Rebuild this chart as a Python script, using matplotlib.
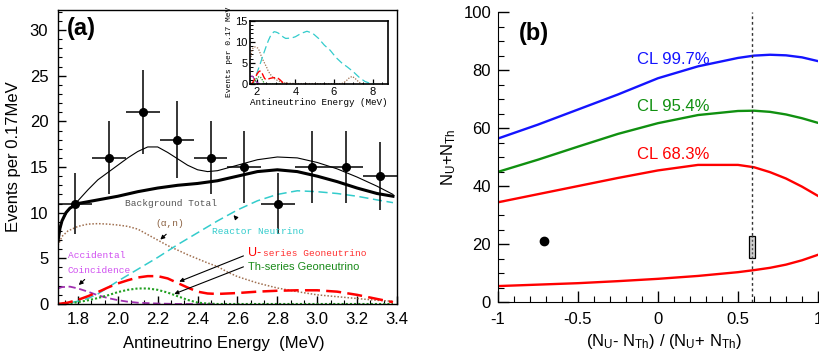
import matplotlib
matplotlib.use("Agg")
import matplotlib.pyplot as plt
from matplotlib.ticker import MultipleLocator
from matplotlib.patches import Rectangle

plt.rcParams["font.family"] = ["Liberation Sans", "DejaVu Sans"]
plt.rcParams["mathtext.fontset"] = "custom"
plt.rcParams["mathtext.rm"] = "Liberation Sans"
plt.rcParams["mathtext.it"] = "Liberation Sans"
plt.rcParams["mathtext.default"] = "regular"

MONO = ["Liberation Mono", "DejaVu Sans Mono"]

# ---------------- panel (a) data ----------------
bin_e = [1.785, 1.955, 2.125, 2.295, 2.465, 2.635, 2.805, 2.975, 3.145, 3.315]
counts = [11, 16, 21, 18, 16, 15, 11, 15, 15, 14]
count_err = [3.3, 4.0, 4.6, 4.2, 4.0, 3.9, 3.3, 3.9, 3.9, 3.7]
bin_half = 0.085

bg_e = [1.70, 1.71, 1.72, 1.74, 1.76, 1.80, 1.85, 1.90, 2.00, 2.10, 2.20, 2.30,
        2.40, 2.50, 2.60, 2.70, 2.80, 2.90, 3.00, 3.10, 3.20, 3.30, 3.38]
bg_total = [6.9, 8.3, 9.1, 10.0, 10.5, 11.0, 11.2, 11.4, 11.8, 12.3, 12.7, 13.0,
            13.2, 13.5, 14.0, 14.5, 14.7, 14.5, 14.0, 13.4, 12.7, 12.1, 11.8]

tot_e = [1.70, 1.72, 1.75, 1.80, 1.85, 1.90, 1.95, 2.00, 2.05, 2.10, 2.15, 2.20,
         2.25, 2.30, 2.35, 2.40, 2.45, 2.50, 2.60, 2.70, 2.80, 2.90, 3.00, 3.10,
         3.20, 3.30, 3.38]
total = [7.0, 9.1, 10.2, 11.3, 12.5, 13.6, 14.4, 15.2, 16.0, 16.7, 17.2, 17.2,
         16.6, 15.9, 15.2, 14.7, 14.5, 14.6, 15.2, 15.8, 16.1, 16.0, 15.5, 14.8,
         13.9, 12.9, 12.0]

re_e = [1.70, 1.75, 1.80, 1.85, 1.90, 1.95, 2.00, 2.10, 2.20, 2.30, 2.40, 2.50,
        2.60, 2.70, 2.80, 2.90, 3.00, 3.10, 3.20, 3.30, 3.38]
reactor = [0.0, 0.1, 0.3, 0.6, 1.1, 1.8, 2.5, 3.8, 5.1, 6.5, 7.8, 9.1,
           10.3, 11.3, 12.0, 12.4, 12.3, 12.1, 11.8, 11.4, 11.1]

an_e = [1.70, 1.72, 1.75, 1.80, 1.85, 1.90, 1.95, 2.00, 2.05, 2.10, 2.15, 2.20,
        2.25, 2.30, 2.35, 2.40, 2.45, 2.50, 2.55, 2.60, 2.70, 2.80, 2.90, 3.00,
        3.10, 3.20, 3.30, 3.38]
alpha_n = [6.4, 7.4, 8.0, 8.5, 8.75, 8.8, 8.75, 8.65, 8.5, 8.2, 7.6, 7.0,
           6.4, 5.9, 5.4, 4.95, 4.5, 4.1, 3.5, 3.0, 2.3, 1.75, 1.35, 1.0,
           0.8, 0.6, 0.4, 0.3]

u_e = [1.70, 1.75, 1.80, 1.85, 1.90, 1.95, 2.00, 2.05, 2.10, 2.15, 2.20, 2.25,
       2.30, 2.35, 2.40, 2.45, 2.50, 2.60, 2.70, 2.80, 2.90, 3.00, 3.10, 3.20,
       3.30, 3.38]
u_geo = [0.0, 0.15, 0.45, 0.85, 1.3, 1.8, 2.25, 2.6, 2.9, 3.05, 3.05, 2.8,
         2.3, 1.8, 1.35, 1.15, 1.1, 1.2, 1.35, 1.45, 1.5, 1.5, 1.35, 1.0,
         0.55, 0.2]

th_e = [1.70, 1.75, 1.80, 1.85, 1.90, 1.95, 2.00, 2.05, 2.10, 2.15, 2.20, 2.25,
        2.30, 2.35, 2.40, 2.45, 2.50, 3.38]
th_geo = [0.0, 0.05, 0.2, 0.4, 0.65, 0.95, 1.3, 1.55, 1.7, 1.7, 1.55, 1.25,
          0.85, 0.45, 0.15, 0.05, 0.0, 0.0]

acc_e = [1.70, 1.72, 1.76, 1.80, 1.85, 1.90, 1.95, 2.00, 2.05, 2.10, 2.20, 2.30, 2.50]
accidental = [1.7, 1.85, 1.9, 1.7, 1.35, 0.95, 0.65, 0.42, 0.25, 0.14, 0.05, 0.0, 0.0]

# inset tails (beyond 3.4 MeV)
re_tail_e = [3.5, 3.8, 4.0, 4.3, 4.6, 4.9, 5.2, 5.5, 5.8, 6.1, 6.4, 6.7, 7.0,
             7.3, 7.6, 7.9, 8.1]
re_tail = [10.8, 10.9, 11.2, 12.0, 12.5, 12.0, 10.8, 9.2, 8.0, 6.3, 5.0, 4.0, 2.9,
           1.6, 0.6, 0.1, 0.0]
an_tail_e = [3.6, 4.0, 5.0, 6.0, 6.4, 6.6, 6.8, 6.95, 7.1, 7.3, 7.5]
an_tail = [0.2, 0.1, 0.1, 0.05, 0.1, 0.6, 1.5, 1.8, 1.3, 0.4, 0.0]
u_tail_e = [3.6]
u_tail = [0.0]

# ---------------- panel (b) data ----------------
asym = [-1.0, -0.75, -0.5, -0.25, 0.0, 0.25, 0.5, 0.6, 0.7, 0.8, 0.9, 1.0]
cl997 = [56.4, 61.2, 66.4, 71.6, 77.2, 81.3, 84.2, 85.0, 85.3, 85.1, 84.4, 83.1]
cl954 = [44.9, 49.1, 53.6, 58.0, 61.7, 64.5, 65.9, 66.0, 65.6, 64.7, 63.4, 61.8]
cl683_hi = [34.4, 37.2, 40.0, 42.8, 45.4, 47.3, 47.3, 46.5, 44.8, 42.6, 39.8, 36.6]
cl683_lo = [5.5, 6.0, 6.5, 7.2, 8.0, 9.0, 10.3, 11.0, 11.8, 12.9, 14.4, 16.3]
best_fit = (-0.71, 21)
expected_asym = 0.587
expected_lo, expected_hi = 15.1, 22.8

fig = plt.figure(figsize=(8.19, 3.57), dpi=100)

# ================= panel (a) =================
ax = fig.add_axes([0.0708, 0.1485, 0.4139, 0.8235])
ax.plot(acc_e, accidental, color="#a030b0", lw=1.3, ls=(0, (4, 2)))
ax.plot(an_e, alpha_n, color="#a07050", lw=1.1, ls=(0, (1, 1.2)))
ax.plot(re_e, reactor, color="#33cccc", lw=1.1, ls=(0, (6, 3)))
ax.plot(th_e, th_geo, color="#22a022", lw=1.5, ls=(0, (1, 1)))
ax.plot(u_e, u_geo, color="#ff0000", lw=1.8, ls=(0, (6, 2.5)))
ax.plot(tot_e, total, color="black", lw=0.8)
ax.plot(bg_e, bg_total, color="black", lw=2.2)
ax.errorbar(bin_e, counts, yerr=count_err, xerr=bin_half, fmt="o", color="black",
            ms=5.5, elinewidth=1.1, capsize=0)

ax.set_xlim(1.7, 3.4)
ax.set_ylim(0, 32.2)
ax.xaxis.set_major_locator(MultipleLocator(0.2))
ax.xaxis.set_minor_locator(MultipleLocator(0.2 / 3))
ax.yaxis.set_major_locator(MultipleLocator(5))
ax.yaxis.set_minor_locator(MultipleLocator(1))
ax.tick_params(which="both", direction="in", labelsize=12)
ax.tick_params(which="major", length=6, width=1)
ax.tick_params(which="minor", length=3, width=0.8)
ax.tick_params(axis="y", pad=7)
ax.tick_params(axis="x", pad=6)
ax.set_xticks([1.8, 2.0, 2.2, 2.4, 2.6, 2.8, 3.0, 3.2, 3.4])
ax.set_xticklabels(["1.8", "2.0", "2.2", "2.4", "2.6", "2.8", "3.0", "3.2", "3.4"])
ax.set_xlabel("Antineutrino Energy  (MeV)", fontsize=12)
ax.set_ylabel("Events per 0.17MeV", fontsize=12)
ax.yaxis.set_label_coords(-0.11, 0.5)
ax.xaxis.set_label_coords(0.49, -0.11)
for s in ax.spines.values():
    s.set_linewidth(1.0)

ax.text(1.745, 30.2, "(a)", fontsize=17, fontweight="bold", va="center")

ax.text(2.036, 11.0, "Background Total", family=MONO, fontsize=6.8,
        color="#555555", va="center")
ax.text(2.26, 8.8, "(\u03b1,n)", family=MONO, fontsize=6.8, color="#8a6040",
        va="center", ha="center")
ax.annotate("", xy=(2.203, 6.85), xytext=(2.253, 7.84),
            arrowprops=dict(arrowstyle="-|>", color="black", lw=0.8,
                            mutation_scale=6))
ax.text(2.471, 7.9, "Reactor Neutrino", family=MONO, fontsize=6.8,
        color="#33cccc", va="center")
ax.annotate("", xy=(2.571, 9.96), xytext=(2.604, 9.15),
            arrowprops=dict(arrowstyle="-|>", color="black", lw=0.8,
                            mutation_scale=6))
ax.text(1.752, 5.27, "Accidental", family=MONO, fontsize=6.8,
        color="#d050f0", va="center")
ax.text(1.747, 3.7, "Coincidence", family=MONO, fontsize=6.8,
        color="#d050f0", va="center")
ax.annotate("", xy=(1.794, 1.87), xytext=(1.844, 2.89),
            arrowprops=dict(arrowstyle="-|>", color="black", lw=0.8,
                            mutation_scale=6))
ax.text(2.655, 5.53, "U-", fontsize=9, color="#ff0000", va="center")
ax.text(2.728, 5.53, "series Geoneutrino", family=MONO, fontsize=6.8,
        color="#ff3030", va="center")
ax.annotate("", xy=(2.295, 2.34), xytext=(2.643, 5.38),
            arrowprops=dict(arrowstyle="-|>", color="black", lw=0.8,
                            mutation_scale=6))
ax.text(2.654, 4.07, "Th-series Geoneutrino", fontsize=8, color="#1a8a1a",
        va="center")
ax.annotate("", xy=(2.27, 0.99), xytext=(2.643, 4.18),
            arrowprops=dict(arrowstyle="-|>", color="black", lw=0.8,
                            mutation_scale=6))

# ---------------- inset ----------------
axi = fig.add_axes([0.3053, 0.7647, 0.1685, 0.1773])
axi.plot(acc_e, accidental, color="#a030b0", lw=0.9, ls=(0, (4, 2)))
axi.plot(an_e + an_tail_e, alpha_n + an_tail, color="#a07050", lw=0.9,
         ls=(0, (1, 1.2)))
axi.plot(re_e + re_tail_e, reactor + re_tail, color="#33cccc", lw=0.9,
         ls=(0, (6, 3)))
axi.plot(th_e, th_geo, color="#22a022", lw=0.9, ls=(0, (1, 1)))
axi.plot(u_e + u_tail_e, u_geo + u_tail, color="#ff0000", lw=1.0,
         ls=(0, (5, 2)))
axi.set_xlim(1.65, 8.8)
axi.set_ylim(0, 15)
axi.xaxis.set_major_locator(MultipleLocator(2))
axi.xaxis.set_minor_locator(MultipleLocator(0.5))
axi.yaxis.set_major_locator(MultipleLocator(5))
axi.yaxis.set_minor_locator(MultipleLocator(1))
axi.tick_params(which="both", direction="in", labelsize=8, pad=2)
axi.tick_params(which="major", length=3.5, width=0.9)
axi.tick_params(which="minor", length=1.8, width=0.7)
axi.set_xlabel("Antineutrino Energy (MeV)", family=MONO, fontsize=6.7, labelpad=1)
axi.set_ylabel("Events per 0.17 MeV", family=MONO, fontsize=5.8, labelpad=1)
for s in axi.spines.values():
    s.set_linewidth(1.2)

# ================= panel (b) =================
bx = fig.add_axes([0.608, 0.154, 0.3908, 0.812])
bx.plot(asym, cl997, color="#1414ff", lw=1.7)
bx.plot(asym, cl954, color="#109010", lw=1.7)
bx.plot(asym, cl683_hi, color="#ff0000", lw=1.7)
bx.plot(asym, cl683_lo, color="#ff0000", lw=1.7)
bx.axvline(expected_asym, color="#333333", lw=1.0, ls=(0, (2, 2)))
bx.add_patch(Rectangle((expected_asym - 0.018, expected_lo), 0.036,
                       expected_hi - expected_lo, facecolor="#d0d0d0",
                       edgecolor="black", lw=0.9, zorder=3))
bx.plot([expected_asym, expected_asym], [expected_lo, expected_hi],
        color="#555555", lw=1.0, ls=(0, (1.5, 1.5)), zorder=4)
bx.plot(best_fit[0], best_fit[1], "o", color="black", ms=6)

bx.text(-0.13, 83.6, "CL 99.7%", color="#1414ff", fontsize=12, va="center")
bx.text(-0.13, 67.6, "CL 95.4%", color="#109010", fontsize=12, va="center")
bx.text(-0.13, 51.0, "CL 68.3%", color="#ff0000", fontsize=12, va="center")
bx.text(-0.87, 92.8, "(b)", fontsize=17, fontweight="bold", va="center")

bx.set_xlim(-1, 1)
bx.set_ylim(0, 100)
bx.xaxis.set_major_locator(MultipleLocator(0.5))
bx.xaxis.set_minor_locator(MultipleLocator(0.1))
bx.yaxis.set_major_locator(MultipleLocator(20))
bx.yaxis.set_minor_locator(MultipleLocator(5))
bx.set_xticks([-1, -0.5, 0, 0.5, 1])
bx.set_xticklabels(["-1", "-0.5", "0", "0.5", "1"])
bx.tick_params(which="both", direction="in", labelsize=12)
bx.tick_params(which="major", length=8, width=1)
bx.tick_params(which="minor", length=4, width=0.8)
bx.tick_params(axis="y", pad=5)
bx.tick_params(axis="x", pad=7)
bx.spines["top"].set_visible(False)
bx.spines["right"].set_visible(False)
bx.set_xlabel(r"(N$_U$- N$_{Th}$) / (N$_U$+ N$_{Th}$)", fontsize=12)
bx.set_ylabel(r"N$_U$+N$_{Th}$", fontsize=12)
bx.yaxis.set_label_coords(-0.125, 0.5)
bx.xaxis.set_label_coords(0.52, -0.105)

fig.savefig("out.png", dpi=100)
